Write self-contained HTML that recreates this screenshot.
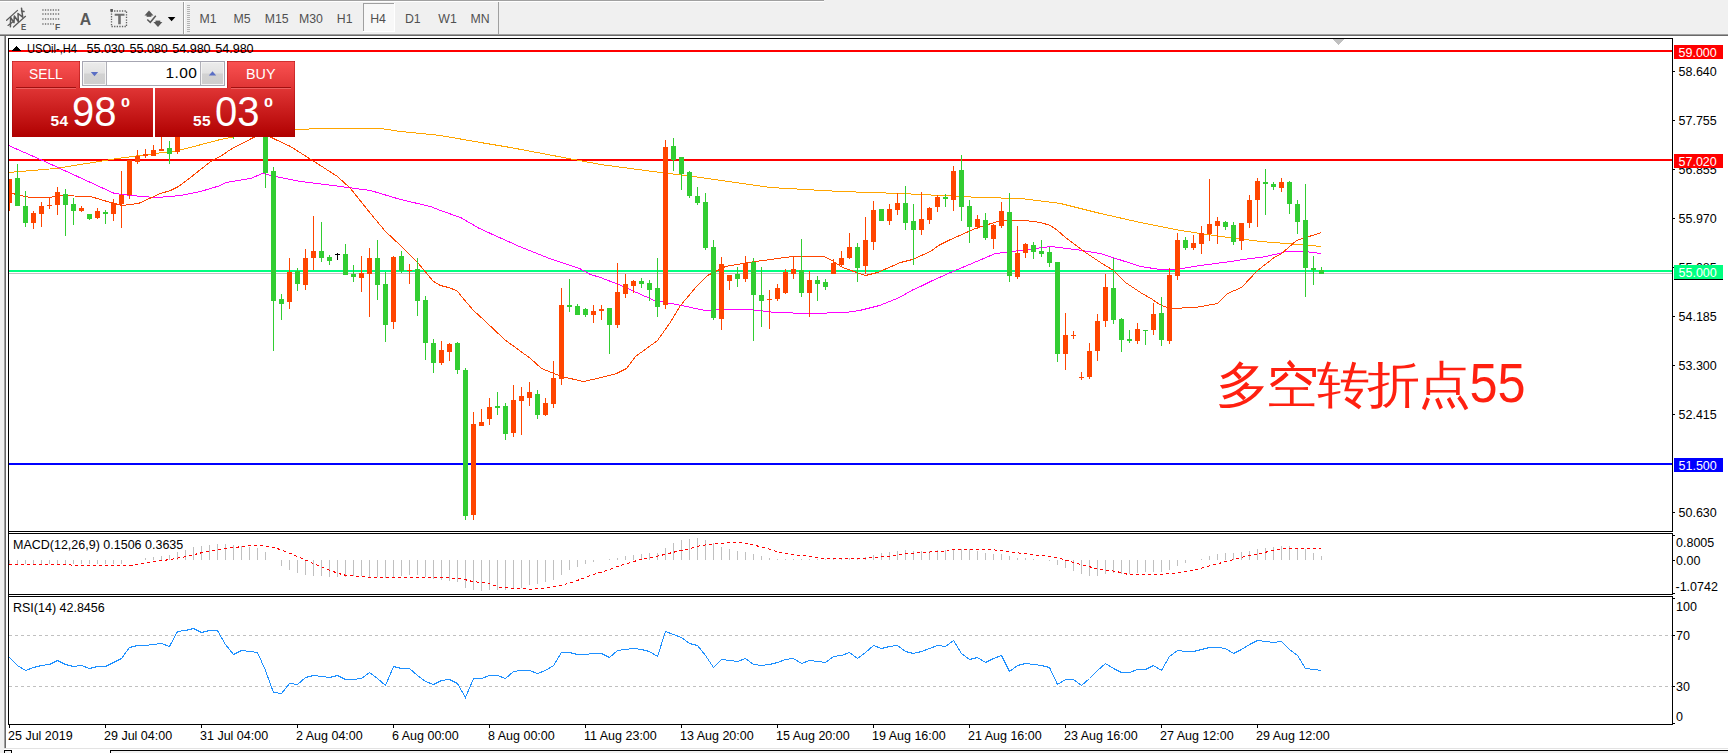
<!DOCTYPE html>
<html><head><meta charset="utf-8"><title>USOil H4</title>
<style>
html,body{margin:0;padding:0;background:#fff;}
body{width:1728px;height:753px;position:relative;overflow:hidden;font-family:"Liberation Sans",sans-serif;}
.a{position:absolute;}
svg{position:absolute;left:0;top:0;}
svg text{font-family:"Liberation Sans",sans-serif;}
.tp{position:absolute;color:#fff;white-space:nowrap;line-height:1;}
</style></head><body>
<div class="a" style="left:0;top:0;width:1728px;height:34px;background:#f0f0f0"></div>
<div class="a" style="left:0;top:0;width:824px;height:1px;background:#a0a0a0"></div>
<div class="a" style="left:0;top:1px;width:824px;height:1px;background:#fff"></div>
<div class="a" style="left:0;top:34px;width:1728px;height:1px;background:#a0a0a0"></div>
<div class="a" style="left:0;top:35px;width:1728px;height:1px;background:#696969"></div>
<div class="a" style="left:0;top:36px;width:4px;height:717px;background:#f0f0f0"></div>
<div class="a" style="left:4px;top:36px;width:1px;height:712px;background:#a0a0a0"></div>
<div class="a" style="left:5px;top:36px;width:1px;height:712px;background:#696969"></div>
<div class="a" style="left:4px;top:748px;width:1724px;height:1px;background:#e3e3e3"></div>
<div class="a" style="left:0;top:750px;width:1728px;height:3px;background:#f0f0f0"></div>
<div class="a" style="left:12px;top:750px;width:98px;height:3px;background:#fff"></div>
<div class="a" style="left:110px;top:750px;width:1618px;height:1px;background:#000"></div>
<div class="a" style="left:110px;top:750px;width:1px;height:3px;background:#000"></div>
<div class="a" style="left:4px;top:750px;width:8px;height:1px;background:#000"></div>
<div class="a" style="left:4px;top:750px;width:1px;height:3px;background:#000"></div>
<div class="a" style="left:11px;top:750px;width:1px;height:3px;background:#000"></div>
<svg width="1728" height="753" viewBox="0 0 1728 753" shape-rendering="crispEdges">
<rect x="9" y="50" width="1664" height="2" fill="#ff0000"/>
<rect x="9" y="159" width="1664" height="2" fill="#ff0000"/>
<rect x="9" y="270" width="1664" height="2" fill="#00ff80"/>
<rect x="9" y="273" width="1663" height="1" fill="#c0c0c0"/>
<rect x="9" y="463" width="1664" height="2" fill="#0000ff"/>
<polyline points="8.5,172.5 55.5,168.5 117.5,158.5 178.5,150.5 220.5,139.5 260.5,131.5 297.5,129.5 320.5,128.5 380.5,128.5 400.5,131.5 440.5,135.5 480.5,142.5 510.5,147.5 600.5,164.5 660.5,172.5 700.5,177.5 770.5,187.5 840.5,191.5 900.5,193.5 940.5,195.5 980.5,197.5 1020.5,198.5 1060.5,203.5 1100.5,213.5 1140.5,222.5 1180.5,230.5 1220.5,236.5 1260.5,241.5 1299.5,244.5 1321.5,246.5" fill="none" stroke="#ffa500" stroke-width="1" />
<polyline points="8.5,145.5 40.5,159.5 114.5,193.5 130.5,195.5 155.5,197.5 170.5,196.5 180.5,195.5 200.5,191.5 220.5,185.5 225.5,182.5 250.5,178.5 262.5,173.5 275.5,176.5 300.5,181.5 340.5,186.5 370.5,190.5 400.5,199.5 430.5,206.5 440.5,210.5 460.5,217.5 479.5,228.5 490.5,233.5 510.5,242.5 519.5,246.5 549.5,258.5 579.5,268.5 590.5,274.5 600.5,277.5 618.5,284.5 654.5,300.5 676.5,304.5 705.5,310.5 717.5,309.5 749.5,309.5 775.5,312.5 809.5,313.5 845.5,312.5 859.5,310.5 879.5,305.5 899.5,297.5 913.5,289.5 920.5,286.5 930.5,281.5 950.5,272.5 995.5,253.5 1020.5,250.5 1050.5,246.5 1075.5,249.5 1100.5,253.5 1140.5,266.5 1160.5,269.5 1175.5,269.5 1200.5,265.5 1230.5,261.5 1250.5,258.5 1260.5,257.5 1279.5,253.5 1284.5,251.5 1299.5,251.5 1304.5,251.5 1321.5,253.5" fill="none" stroke="#ff00ff" stroke-width="1" />
<polyline points="8.5,192.5 20.5,195.5 30.5,197.5 50.5,197.5 57.5,195.5 90.5,196.5 110.5,202.5 122.5,205.5 138.5,203.5 160.5,193.5 170.5,190.5 178.5,186.5 190.5,177.5 200.5,169.5 213.5,159.5 220.5,156.5 230.5,149.5 253.5,137.5 262.5,132.5 271.5,137.5 275.5,139.5 290.5,146.5 312.5,160.5 337.5,176.5 350.5,188.5 370.5,213.5 385.5,231.5 400.5,245.5 417.5,262.5 433.5,281.5 440.5,285.5 448.5,287.5 456.5,290.5 458.5,292.5 461.5,296.5 467.5,303.5 473.5,310.5 484.5,320.5 504.5,339.5 530.5,358.5 541.5,368.5 561.5,376.5 583.5,381.5 601.5,377.5 616.5,373.5 626.5,368.5 635.5,356.5 657.5,340.5 669.5,323.5 680.5,305.5 696.5,286.5 707.5,275.5 725.5,266.5 755.5,261.5 792.5,256.5 823.5,256.5 830.5,259.5 842.5,267.5 865.5,275.5 877.5,272.5 900.5,262.5 912.5,259.5 930.5,251.5 938.5,245.5 950.5,239.5 975.5,228.5 1000.5,220.5 1025.5,220.5 1040.5,222.5 1050.5,225.5 1057.5,230.5 1065.5,237.5 1085.5,252.5 1100.5,262.5 1113.5,270.5 1125.5,282.5 1140.5,292.5 1152.5,299.5 1159.5,304.5 1169.5,308.5 1195.5,307.5 1217.5,303.5 1227.5,293.5 1241.5,287.5 1257.5,270.5 1275.5,256.5 1280.5,254.5 1296.5,240.5 1321.5,232.5" fill="none" stroke="#ff4500" stroke-width="1" />
<rect x="9" y="179" width="1" height="32" fill="#ff4500"/>
<rect x="9" y="179" width="3" height="24" fill="#ff4500"/>
<rect x="17" y="164" width="1" height="42" fill="#32cd32"/>
<rect x="15" y="178" width="5" height="28" fill="#32cd32"/>
<rect x="25" y="191" width="1" height="36" fill="#32cd32"/>
<rect x="23" y="206" width="5" height="17" fill="#32cd32"/>
<rect x="33" y="211" width="1" height="18" fill="#ff4500"/>
<rect x="31" y="213" width="5" height="10" fill="#ff4500"/>
<rect x="41" y="202" width="1" height="25" fill="#ff4500"/>
<rect x="39" y="206" width="5" height="8" fill="#ff4500"/>
<rect x="49" y="198" width="1" height="11" fill="#ff4500"/>
<rect x="47" y="205" width="5" height="1" fill="#ff4500"/>
<rect x="57" y="187" width="1" height="28" fill="#ff4500"/>
<rect x="55" y="192" width="5" height="13" fill="#ff4500"/>
<rect x="65" y="189" width="1" height="47" fill="#32cd32"/>
<rect x="63" y="194" width="5" height="11" fill="#32cd32"/>
<rect x="73" y="198" width="1" height="27" fill="#32cd32"/>
<rect x="71" y="204" width="5" height="7" fill="#32cd32"/>
<rect x="81" y="206" width="1" height="6" fill="#ff4500"/>
<rect x="79" y="208" width="5" height="3" fill="#ff4500"/>
<rect x="89" y="214" width="1" height="6" fill="#32cd32"/>
<rect x="87" y="214" width="5" height="5" fill="#32cd32"/>
<rect x="97" y="208" width="1" height="11" fill="#ff4500"/>
<rect x="95" y="211" width="5" height="7" fill="#ff4500"/>
<rect x="105" y="210" width="1" height="14" fill="#32cd32"/>
<rect x="103" y="212" width="5" height="2" fill="#32cd32"/>
<rect x="113" y="199" width="1" height="22" fill="#ff4500"/>
<rect x="111" y="203" width="5" height="11" fill="#ff4500"/>
<rect x="121" y="171" width="1" height="57" fill="#ff4500"/>
<rect x="119" y="195" width="5" height="9" fill="#ff4500"/>
<rect x="129" y="160" width="1" height="39" fill="#ff4500"/>
<rect x="127" y="160" width="5" height="35" fill="#ff4500"/>
<rect x="137" y="150" width="1" height="14" fill="#ff4500"/>
<rect x="135" y="156" width="5" height="6" fill="#ff4500"/>
<rect x="145" y="149" width="1" height="9" fill="#ff4500"/>
<rect x="143" y="154" width="5" height="2" fill="#ff4500"/>
<rect x="153" y="145" width="1" height="11" fill="#ff4500"/>
<rect x="151" y="150" width="5" height="6" fill="#ff4500"/>
<rect x="161" y="130" width="1" height="21" fill="#ff4500"/>
<rect x="159" y="149" width="5" height="2" fill="#ff4500"/>
<rect x="169" y="141" width="1" height="23" fill="#32cd32"/>
<rect x="167" y="148" width="5" height="6" fill="#32cd32"/>
<rect x="177" y="130" width="1" height="24" fill="#ff4500"/>
<rect x="175" y="130" width="5" height="22" fill="#ff4500"/>
<rect x="185" y="120" width="1" height="13" fill="#ff4500"/>
<rect x="183" y="122" width="5" height="9" fill="#ff4500"/>
<rect x="193" y="112" width="1" height="14" fill="#ff4500"/>
<rect x="191" y="118" width="5" height="5" fill="#ff4500"/>
<rect x="201" y="110" width="1" height="18" fill="#32cd32"/>
<rect x="199" y="116" width="5" height="5" fill="#32cd32"/>
<rect x="209" y="108" width="1" height="12" fill="#ff4500"/>
<rect x="207" y="112" width="5" height="6" fill="#ff4500"/>
<rect x="217" y="109" width="1" height="13" fill="#32cd32"/>
<rect x="215" y="112" width="5" height="2" fill="#32cd32"/>
<rect x="225" y="110" width="1" height="21" fill="#32cd32"/>
<rect x="223" y="114" width="5" height="14" fill="#32cd32"/>
<rect x="233" y="122" width="1" height="17" fill="#32cd32"/>
<rect x="231" y="127" width="5" height="9" fill="#32cd32"/>
<rect x="241" y="118" width="1" height="18" fill="#ff4500"/>
<rect x="239" y="124" width="5" height="10" fill="#ff4500"/>
<rect x="249" y="120" width="1" height="12" fill="#32cd32"/>
<rect x="247" y="125" width="5" height="3" fill="#32cd32"/>
<rect x="257" y="112" width="1" height="18" fill="#ff4500"/>
<rect x="255" y="122" width="5" height="5" fill="#ff4500"/>
<rect x="265" y="100" width="1" height="88" fill="#32cd32"/>
<rect x="263" y="105" width="5" height="68" fill="#32cd32"/>
<rect x="273" y="167" width="1" height="184" fill="#32cd32"/>
<rect x="271" y="171" width="5" height="130" fill="#32cd32"/>
<rect x="281" y="294" width="1" height="26" fill="#32cd32"/>
<rect x="279" y="299" width="5" height="5" fill="#32cd32"/>
<rect x="289" y="258" width="1" height="51" fill="#ff4500"/>
<rect x="287" y="272" width="5" height="30" fill="#ff4500"/>
<rect x="297" y="268" width="1" height="23" fill="#32cd32"/>
<rect x="295" y="271" width="5" height="13" fill="#32cd32"/>
<rect x="305" y="249" width="1" height="41" fill="#ff4500"/>
<rect x="303" y="258" width="5" height="27" fill="#ff4500"/>
<rect x="313" y="216" width="1" height="54" fill="#ff4500"/>
<rect x="311" y="251" width="5" height="7" fill="#ff4500"/>
<rect x="321" y="222" width="1" height="40" fill="#32cd32"/>
<rect x="319" y="251" width="5" height="7" fill="#32cd32"/>
<rect x="329" y="255" width="1" height="10" fill="#32cd32"/>
<rect x="327" y="257" width="5" height="4" fill="#32cd32"/>
<rect x="345" y="244" width="1" height="31" fill="#32cd32"/>
<rect x="343" y="254" width="5" height="21" fill="#32cd32"/>
<rect x="353" y="265" width="1" height="17" fill="#32cd32"/>
<rect x="351" y="274" width="5" height="3" fill="#32cd32"/>
<rect x="361" y="256" width="1" height="36" fill="#ff4500"/>
<rect x="359" y="273" width="5" height="5" fill="#ff4500"/>
<rect x="369" y="248" width="1" height="69" fill="#ff4500"/>
<rect x="367" y="258" width="5" height="16" fill="#ff4500"/>
<rect x="377" y="240" width="1" height="60" fill="#32cd32"/>
<rect x="375" y="258" width="5" height="27" fill="#32cd32"/>
<rect x="385" y="272" width="1" height="70" fill="#32cd32"/>
<rect x="383" y="284" width="5" height="41" fill="#32cd32"/>
<rect x="393" y="256" width="1" height="73" fill="#ff4500"/>
<rect x="391" y="257" width="5" height="65" fill="#ff4500"/>
<rect x="401" y="251" width="1" height="22" fill="#32cd32"/>
<rect x="399" y="256" width="5" height="15" fill="#32cd32"/>
<rect x="409" y="264" width="1" height="20" fill="#ff4500"/>
<rect x="407" y="270" width="5" height="1" fill="#ff4500"/>
<rect x="417" y="258" width="1" height="58" fill="#32cd32"/>
<rect x="415" y="269" width="5" height="32" fill="#32cd32"/>
<rect x="425" y="296" width="1" height="64" fill="#32cd32"/>
<rect x="423" y="300" width="5" height="43" fill="#32cd32"/>
<rect x="433" y="339" width="1" height="34" fill="#32cd32"/>
<rect x="431" y="343" width="5" height="20" fill="#32cd32"/>
<rect x="441" y="341" width="1" height="24" fill="#ff4500"/>
<rect x="439" y="350" width="5" height="13" fill="#ff4500"/>
<rect x="449" y="343" width="1" height="18" fill="#ff4500"/>
<rect x="447" y="344" width="5" height="8" fill="#ff4500"/>
<rect x="457" y="342" width="1" height="32" fill="#32cd32"/>
<rect x="455" y="343" width="5" height="27" fill="#32cd32"/>
<rect x="465" y="368" width="1" height="152" fill="#32cd32"/>
<rect x="463" y="370" width="5" height="146" fill="#32cd32"/>
<rect x="473" y="412" width="1" height="108" fill="#ff4500"/>
<rect x="471" y="424" width="5" height="91" fill="#ff4500"/>
<rect x="481" y="409" width="1" height="17" fill="#ff4500"/>
<rect x="479" y="422" width="5" height="4" fill="#ff4500"/>
<rect x="489" y="398" width="1" height="27" fill="#ff4500"/>
<rect x="487" y="407" width="5" height="12" fill="#ff4500"/>
<rect x="497" y="392" width="1" height="23" fill="#32cd32"/>
<rect x="495" y="406" width="5" height="2" fill="#32cd32"/>
<rect x="505" y="403" width="1" height="37" fill="#32cd32"/>
<rect x="503" y="406" width="5" height="28" fill="#32cd32"/>
<rect x="513" y="385" width="1" height="52" fill="#ff4500"/>
<rect x="511" y="400" width="5" height="33" fill="#ff4500"/>
<rect x="521" y="387" width="1" height="48" fill="#ff4500"/>
<rect x="519" y="396" width="5" height="5" fill="#ff4500"/>
<rect x="529" y="382" width="1" height="24" fill="#ff4500"/>
<rect x="527" y="392" width="5" height="6" fill="#ff4500"/>
<rect x="537" y="390" width="1" height="29" fill="#32cd32"/>
<rect x="535" y="394" width="5" height="21" fill="#32cd32"/>
<rect x="545" y="398" width="1" height="18" fill="#ff4500"/>
<rect x="543" y="403" width="5" height="12" fill="#ff4500"/>
<rect x="553" y="361" width="1" height="47" fill="#ff4500"/>
<rect x="551" y="378" width="5" height="26" fill="#ff4500"/>
<rect x="561" y="288" width="1" height="97" fill="#ff4500"/>
<rect x="559" y="305" width="5" height="74" fill="#ff4500"/>
<rect x="569" y="279" width="1" height="33" fill="#32cd32"/>
<rect x="567" y="305" width="5" height="2" fill="#32cd32"/>
<rect x="577" y="304" width="1" height="11" fill="#32cd32"/>
<rect x="575" y="306" width="5" height="9" fill="#32cd32"/>
<rect x="585" y="308" width="1" height="9" fill="#32cd32"/>
<rect x="583" y="309" width="5" height="6" fill="#32cd32"/>
<rect x="593" y="305" width="1" height="18" fill="#ff4500"/>
<rect x="591" y="311" width="5" height="4" fill="#ff4500"/>
<rect x="601" y="305" width="1" height="15" fill="#ff4500"/>
<rect x="599" y="309" width="5" height="2" fill="#ff4500"/>
<rect x="609" y="308" width="1" height="46" fill="#32cd32"/>
<rect x="607" y="308" width="5" height="17" fill="#32cd32"/>
<rect x="617" y="263" width="1" height="65" fill="#ff4500"/>
<rect x="615" y="292" width="5" height="33" fill="#ff4500"/>
<rect x="625" y="274" width="1" height="24" fill="#ff4500"/>
<rect x="623" y="284" width="5" height="10" fill="#ff4500"/>
<rect x="633" y="280" width="1" height="13" fill="#ff4500"/>
<rect x="631" y="281" width="5" height="5" fill="#ff4500"/>
<rect x="641" y="278" width="1" height="10" fill="#32cd32"/>
<rect x="639" y="281" width="5" height="3" fill="#32cd32"/>
<rect x="649" y="280" width="1" height="21" fill="#32cd32"/>
<rect x="647" y="283" width="5" height="7" fill="#32cd32"/>
<rect x="657" y="258" width="1" height="59" fill="#32cd32"/>
<rect x="655" y="288" width="5" height="19" fill="#32cd32"/>
<rect x="665" y="140" width="1" height="169" fill="#ff4500"/>
<rect x="663" y="147" width="5" height="158" fill="#ff4500"/>
<rect x="673" y="138" width="1" height="33" fill="#32cd32"/>
<rect x="671" y="146" width="5" height="14" fill="#32cd32"/>
<rect x="681" y="157" width="1" height="33" fill="#32cd32"/>
<rect x="679" y="157" width="5" height="17" fill="#32cd32"/>
<rect x="689" y="171" width="1" height="27" fill="#32cd32"/>
<rect x="687" y="172" width="5" height="24" fill="#32cd32"/>
<rect x="697" y="187" width="1" height="18" fill="#32cd32"/>
<rect x="695" y="196" width="5" height="7" fill="#32cd32"/>
<rect x="705" y="193" width="1" height="57" fill="#32cd32"/>
<rect x="703" y="202" width="5" height="46" fill="#32cd32"/>
<rect x="713" y="240" width="1" height="80" fill="#32cd32"/>
<rect x="711" y="247" width="5" height="71" fill="#32cd32"/>
<rect x="721" y="257" width="1" height="73" fill="#ff4500"/>
<rect x="719" y="264" width="5" height="55" fill="#ff4500"/>
<rect x="729" y="275" width="1" height="15" fill="#ff4500"/>
<rect x="727" y="275" width="5" height="6" fill="#ff4500"/>
<rect x="737" y="267" width="1" height="20" fill="#32cd32"/>
<rect x="735" y="274" width="5" height="5" fill="#32cd32"/>
<rect x="745" y="256" width="1" height="26" fill="#ff4500"/>
<rect x="743" y="263" width="5" height="16" fill="#ff4500"/>
<rect x="753" y="258" width="1" height="83" fill="#32cd32"/>
<rect x="751" y="262" width="5" height="33" fill="#32cd32"/>
<rect x="761" y="267" width="1" height="60" fill="#32cd32"/>
<rect x="759" y="295" width="5" height="6" fill="#32cd32"/>
<rect x="769" y="290" width="1" height="39" fill="#ff4500"/>
<rect x="767" y="299" width="5" height="1" fill="#ff4500"/>
<rect x="777" y="284" width="1" height="17" fill="#ff4500"/>
<rect x="775" y="288" width="5" height="11" fill="#ff4500"/>
<rect x="785" y="269" width="1" height="25" fill="#ff4500"/>
<rect x="783" y="272" width="5" height="21" fill="#ff4500"/>
<rect x="793" y="256" width="1" height="23" fill="#ff4500"/>
<rect x="791" y="269" width="5" height="5" fill="#ff4500"/>
<rect x="801" y="239" width="1" height="58" fill="#32cd32"/>
<rect x="799" y="270" width="5" height="23" fill="#32cd32"/>
<rect x="809" y="271" width="1" height="46" fill="#ff4500"/>
<rect x="807" y="280" width="5" height="13" fill="#ff4500"/>
<rect x="817" y="276" width="1" height="25" fill="#32cd32"/>
<rect x="815" y="280" width="5" height="4" fill="#32cd32"/>
<rect x="825" y="279" width="1" height="11" fill="#32cd32"/>
<rect x="823" y="282" width="5" height="5" fill="#32cd32"/>
<rect x="833" y="259" width="1" height="15" fill="#ff4500"/>
<rect x="831" y="263" width="5" height="11" fill="#ff4500"/>
<rect x="841" y="251" width="1" height="15" fill="#ff4500"/>
<rect x="839" y="258" width="5" height="7" fill="#ff4500"/>
<rect x="849" y="233" width="1" height="26" fill="#ff4500"/>
<rect x="847" y="247" width="5" height="11" fill="#ff4500"/>
<rect x="857" y="243" width="1" height="39" fill="#32cd32"/>
<rect x="855" y="247" width="5" height="21" fill="#32cd32"/>
<rect x="865" y="217" width="1" height="57" fill="#ff4500"/>
<rect x="863" y="240" width="5" height="26" fill="#ff4500"/>
<rect x="873" y="201" width="1" height="49" fill="#ff4500"/>
<rect x="871" y="210" width="5" height="32" fill="#ff4500"/>
<rect x="881" y="209" width="1" height="12" fill="#32cd32"/>
<rect x="879" y="209" width="5" height="12" fill="#32cd32"/>
<rect x="889" y="204" width="1" height="21" fill="#ff4500"/>
<rect x="887" y="209" width="5" height="12" fill="#ff4500"/>
<rect x="897" y="193" width="1" height="22" fill="#ff4500"/>
<rect x="895" y="203" width="5" height="7" fill="#ff4500"/>
<rect x="905" y="186" width="1" height="44" fill="#32cd32"/>
<rect x="903" y="203" width="5" height="20" fill="#32cd32"/>
<rect x="913" y="204" width="1" height="61" fill="#32cd32"/>
<rect x="911" y="221" width="5" height="9" fill="#32cd32"/>
<rect x="921" y="192" width="1" height="43" fill="#ff4500"/>
<rect x="919" y="219" width="5" height="11" fill="#ff4500"/>
<rect x="929" y="207" width="1" height="17" fill="#ff4500"/>
<rect x="927" y="208" width="5" height="12" fill="#ff4500"/>
<rect x="937" y="195" width="1" height="17" fill="#ff4500"/>
<rect x="935" y="197" width="5" height="10" fill="#ff4500"/>
<rect x="945" y="194" width="1" height="13" fill="#32cd32"/>
<rect x="943" y="197" width="5" height="2" fill="#32cd32"/>
<rect x="953" y="166" width="1" height="45" fill="#ff4500"/>
<rect x="951" y="171" width="5" height="29" fill="#ff4500"/>
<rect x="961" y="155" width="1" height="66" fill="#32cd32"/>
<rect x="959" y="170" width="5" height="37" fill="#32cd32"/>
<rect x="969" y="200" width="1" height="43" fill="#32cd32"/>
<rect x="967" y="206" width="5" height="21" fill="#32cd32"/>
<rect x="977" y="215" width="1" height="14" fill="#ff4500"/>
<rect x="975" y="219" width="5" height="8" fill="#ff4500"/>
<rect x="985" y="213" width="1" height="27" fill="#32cd32"/>
<rect x="983" y="220" width="5" height="18" fill="#32cd32"/>
<rect x="993" y="224" width="1" height="25" fill="#ff4500"/>
<rect x="991" y="225" width="5" height="14" fill="#ff4500"/>
<rect x="1001" y="202" width="1" height="26" fill="#ff4500"/>
<rect x="999" y="211" width="5" height="15" fill="#ff4500"/>
<rect x="1009" y="193" width="1" height="89" fill="#32cd32"/>
<rect x="1007" y="212" width="5" height="64" fill="#32cd32"/>
<rect x="1017" y="226" width="1" height="53" fill="#ff4500"/>
<rect x="1015" y="253" width="5" height="24" fill="#ff4500"/>
<rect x="1025" y="243" width="1" height="15" fill="#ff4500"/>
<rect x="1023" y="244" width="5" height="9" fill="#ff4500"/>
<rect x="1033" y="242" width="1" height="17" fill="#32cd32"/>
<rect x="1031" y="245" width="5" height="7" fill="#32cd32"/>
<rect x="1041" y="240" width="1" height="17" fill="#32cd32"/>
<rect x="1039" y="251" width="5" height="3" fill="#32cd32"/>
<rect x="1049" y="247" width="1" height="20" fill="#32cd32"/>
<rect x="1047" y="252" width="5" height="11" fill="#32cd32"/>
<rect x="1057" y="262" width="1" height="100" fill="#32cd32"/>
<rect x="1055" y="262" width="5" height="92" fill="#32cd32"/>
<rect x="1065" y="313" width="1" height="57" fill="#ff4500"/>
<rect x="1063" y="335" width="5" height="19" fill="#ff4500"/>
<rect x="1073" y="331" width="1" height="8" fill="#ff4500"/>
<rect x="1071" y="335" width="5" height="1" fill="#ff4500"/>
<rect x="1081" y="372" width="1" height="8" fill="#ff4500"/>
<rect x="1079" y="377" width="5" height="1" fill="#ff4500"/>
<rect x="1089" y="343" width="1" height="36" fill="#ff4500"/>
<rect x="1087" y="351" width="5" height="26" fill="#ff4500"/>
<rect x="1097" y="314" width="1" height="47" fill="#ff4500"/>
<rect x="1095" y="321" width="5" height="30" fill="#ff4500"/>
<rect x="1105" y="274" width="1" height="53" fill="#ff4500"/>
<rect x="1103" y="287" width="5" height="34" fill="#ff4500"/>
<rect x="1113" y="258" width="1" height="66" fill="#32cd32"/>
<rect x="1111" y="288" width="5" height="32" fill="#32cd32"/>
<rect x="1121" y="318" width="1" height="34" fill="#32cd32"/>
<rect x="1119" y="319" width="5" height="21" fill="#32cd32"/>
<rect x="1129" y="330" width="1" height="13" fill="#32cd32"/>
<rect x="1127" y="339" width="5" height="2" fill="#32cd32"/>
<rect x="1137" y="323" width="1" height="21" fill="#ff4500"/>
<rect x="1135" y="329" width="5" height="12" fill="#ff4500"/>
<rect x="1145" y="330" width="1" height="15" fill="#32cd32"/>
<rect x="1143" y="330" width="5" height="1" fill="#32cd32"/>
<rect x="1153" y="303" width="1" height="32" fill="#ff4500"/>
<rect x="1151" y="314" width="5" height="16" fill="#ff4500"/>
<rect x="1161" y="297" width="1" height="49" fill="#32cd32"/>
<rect x="1159" y="313" width="5" height="27" fill="#32cd32"/>
<rect x="1169" y="268" width="1" height="76" fill="#ff4500"/>
<rect x="1167" y="275" width="5" height="66" fill="#ff4500"/>
<rect x="1177" y="233" width="1" height="47" fill="#ff4500"/>
<rect x="1175" y="240" width="5" height="36" fill="#ff4500"/>
<rect x="1185" y="237" width="1" height="13" fill="#32cd32"/>
<rect x="1183" y="240" width="5" height="8" fill="#32cd32"/>
<rect x="1193" y="235" width="1" height="15" fill="#ff4500"/>
<rect x="1191" y="243" width="5" height="5" fill="#ff4500"/>
<rect x="1201" y="226" width="1" height="28" fill="#ff4500"/>
<rect x="1199" y="233" width="5" height="11" fill="#ff4500"/>
<rect x="1209" y="179" width="1" height="62" fill="#ff4500"/>
<rect x="1207" y="224" width="5" height="10" fill="#ff4500"/>
<rect x="1217" y="217" width="1" height="27" fill="#ff4500"/>
<rect x="1215" y="221" width="5" height="5" fill="#ff4500"/>
<rect x="1225" y="221" width="1" height="9" fill="#32cd32"/>
<rect x="1223" y="222" width="5" height="5" fill="#32cd32"/>
<rect x="1233" y="222" width="1" height="23" fill="#32cd32"/>
<rect x="1231" y="225" width="5" height="17" fill="#32cd32"/>
<rect x="1241" y="223" width="1" height="27" fill="#ff4500"/>
<rect x="1239" y="223" width="5" height="18" fill="#ff4500"/>
<rect x="1249" y="195" width="1" height="33" fill="#ff4500"/>
<rect x="1247" y="200" width="5" height="23" fill="#ff4500"/>
<rect x="1257" y="178" width="1" height="49" fill="#ff4500"/>
<rect x="1255" y="181" width="5" height="19" fill="#ff4500"/>
<rect x="1265" y="169" width="1" height="46" fill="#32cd32"/>
<rect x="1263" y="182" width="5" height="2" fill="#32cd32"/>
<rect x="1273" y="182" width="1" height="8" fill="#32cd32"/>
<rect x="1271" y="184" width="5" height="3" fill="#32cd32"/>
<rect x="1281" y="178" width="1" height="14" fill="#ff4500"/>
<rect x="1279" y="182" width="5" height="6" fill="#ff4500"/>
<rect x="1289" y="181" width="1" height="33" fill="#32cd32"/>
<rect x="1287" y="182" width="5" height="22" fill="#32cd32"/>
<rect x="1297" y="200" width="1" height="34" fill="#32cd32"/>
<rect x="1295" y="204" width="5" height="18" fill="#32cd32"/>
<rect x="1305" y="184" width="1" height="113" fill="#32cd32"/>
<rect x="1303" y="220" width="5" height="48" fill="#32cd32"/>
<rect x="1313" y="256" width="1" height="29" fill="#32cd32"/>
<rect x="1311" y="268" width="5" height="2" fill="#32cd32"/>
<rect x="1321" y="267" width="1" height="7" fill="#32cd32"/>
<rect x="1319" y="270" width="5" height="4" fill="#32cd32"/>
<rect x="337" y="253" width="1" height="7" fill="#000"/>
<rect x="335" y="254" width="5" height="1" fill="#000"/>
<polygon points="1332,39 1344,39 1338,45" fill="#c0c0c0"/>
<rect x="9" y="560" width="1" height="4" fill="#c0c0c0"/>
<rect x="17" y="560" width="1" height="4" fill="#c0c0c0"/>
<rect x="25" y="560" width="1" height="4" fill="#c0c0c0"/>
<rect x="33" y="560" width="1" height="4" fill="#c0c0c0"/>
<rect x="41" y="560" width="1" height="4" fill="#c0c0c0"/>
<rect x="49" y="560" width="1" height="4" fill="#c0c0c0"/>
<rect x="57" y="560" width="1" height="4" fill="#c0c0c0"/>
<rect x="65" y="560" width="1" height="4" fill="#c0c0c0"/>
<rect x="73" y="560" width="1" height="4" fill="#c0c0c0"/>
<rect x="81" y="560" width="1" height="4" fill="#c0c0c0"/>
<rect x="89" y="560" width="1" height="4" fill="#c0c0c0"/>
<rect x="97" y="560" width="1" height="4" fill="#c0c0c0"/>
<rect x="105" y="560" width="1" height="4" fill="#c0c0c0"/>
<rect x="113" y="560" width="1" height="4" fill="#c0c0c0"/>
<rect x="121" y="560" width="1" height="4" fill="#c0c0c0"/>
<rect x="145" y="558" width="1" height="2" fill="#c0c0c0"/>
<rect x="153" y="557" width="1" height="3" fill="#c0c0c0"/>
<rect x="161" y="556" width="1" height="4" fill="#c0c0c0"/>
<rect x="169" y="555" width="1" height="5" fill="#c0c0c0"/>
<rect x="177" y="552" width="1" height="8" fill="#c0c0c0"/>
<rect x="185" y="550" width="1" height="10" fill="#c0c0c0"/>
<rect x="193" y="547" width="1" height="13" fill="#c0c0c0"/>
<rect x="201" y="546" width="1" height="14" fill="#c0c0c0"/>
<rect x="209" y="545" width="1" height="15" fill="#c0c0c0"/>
<rect x="217" y="544" width="1" height="16" fill="#c0c0c0"/>
<rect x="225" y="544" width="1" height="16" fill="#c0c0c0"/>
<rect x="233" y="545" width="1" height="15" fill="#c0c0c0"/>
<rect x="241" y="546" width="1" height="14" fill="#c0c0c0"/>
<rect x="249" y="547" width="1" height="13" fill="#c0c0c0"/>
<rect x="257" y="548" width="1" height="12" fill="#c0c0c0"/>
<rect x="265" y="552" width="1" height="8" fill="#c0c0c0"/>
<rect x="281" y="560" width="1" height="6" fill="#c0c0c0"/>
<rect x="289" y="560" width="1" height="10" fill="#c0c0c0"/>
<rect x="297" y="560" width="1" height="13" fill="#c0c0c0"/>
<rect x="305" y="560" width="1" height="15" fill="#c0c0c0"/>
<rect x="313" y="560" width="1" height="16" fill="#c0c0c0"/>
<rect x="321" y="560" width="1" height="16" fill="#c0c0c0"/>
<rect x="329" y="560" width="1" height="17" fill="#c0c0c0"/>
<rect x="337" y="560" width="1" height="17" fill="#c0c0c0"/>
<rect x="345" y="560" width="1" height="17" fill="#c0c0c0"/>
<rect x="353" y="560" width="1" height="16" fill="#c0c0c0"/>
<rect x="361" y="560" width="1" height="16" fill="#c0c0c0"/>
<rect x="369" y="560" width="1" height="17" fill="#c0c0c0"/>
<rect x="377" y="560" width="1" height="17" fill="#c0c0c0"/>
<rect x="385" y="560" width="1" height="18" fill="#c0c0c0"/>
<rect x="393" y="560" width="1" height="17" fill="#c0c0c0"/>
<rect x="401" y="560" width="1" height="16" fill="#c0c0c0"/>
<rect x="409" y="560" width="1" height="15" fill="#c0c0c0"/>
<rect x="417" y="560" width="1" height="15" fill="#c0c0c0"/>
<rect x="425" y="560" width="1" height="17" fill="#c0c0c0"/>
<rect x="433" y="560" width="1" height="19" fill="#c0c0c0"/>
<rect x="441" y="560" width="1" height="20" fill="#c0c0c0"/>
<rect x="449" y="560" width="1" height="21" fill="#c0c0c0"/>
<rect x="457" y="560" width="1" height="22" fill="#c0c0c0"/>
<rect x="465" y="560" width="1" height="28" fill="#c0c0c0"/>
<rect x="473" y="560" width="1" height="30" fill="#c0c0c0"/>
<rect x="481" y="560" width="1" height="31" fill="#c0c0c0"/>
<rect x="489" y="560" width="1" height="30" fill="#c0c0c0"/>
<rect x="497" y="560" width="1" height="30" fill="#c0c0c0"/>
<rect x="505" y="560" width="1" height="30" fill="#c0c0c0"/>
<rect x="513" y="560" width="1" height="29" fill="#c0c0c0"/>
<rect x="521" y="560" width="1" height="28" fill="#c0c0c0"/>
<rect x="529" y="560" width="1" height="25" fill="#c0c0c0"/>
<rect x="537" y="560" width="1" height="24" fill="#c0c0c0"/>
<rect x="545" y="560" width="1" height="22" fill="#c0c0c0"/>
<rect x="553" y="560" width="1" height="20" fill="#c0c0c0"/>
<rect x="561" y="560" width="1" height="15" fill="#c0c0c0"/>
<rect x="569" y="560" width="1" height="10" fill="#c0c0c0"/>
<rect x="577" y="560" width="1" height="7" fill="#c0c0c0"/>
<rect x="585" y="560" width="1" height="4" fill="#c0c0c0"/>
<rect x="593" y="560" width="1" height="2" fill="#c0c0c0"/>
<rect x="609" y="559" width="1" height="1" fill="#c0c0c0"/>
<rect x="617" y="558" width="1" height="2" fill="#c0c0c0"/>
<rect x="625" y="556" width="1" height="4" fill="#c0c0c0"/>
<rect x="633" y="555" width="1" height="5" fill="#c0c0c0"/>
<rect x="641" y="554" width="1" height="6" fill="#c0c0c0"/>
<rect x="649" y="553" width="1" height="7" fill="#c0c0c0"/>
<rect x="657" y="553" width="1" height="7" fill="#c0c0c0"/>
<rect x="665" y="548" width="1" height="12" fill="#c0c0c0"/>
<rect x="673" y="543" width="1" height="17" fill="#c0c0c0"/>
<rect x="681" y="540" width="1" height="20" fill="#c0c0c0"/>
<rect x="689" y="539" width="1" height="21" fill="#c0c0c0"/>
<rect x="697" y="538" width="1" height="22" fill="#c0c0c0"/>
<rect x="705" y="540" width="1" height="20" fill="#c0c0c0"/>
<rect x="713" y="543" width="1" height="17" fill="#c0c0c0"/>
<rect x="721" y="547" width="1" height="13" fill="#c0c0c0"/>
<rect x="729" y="549" width="1" height="11" fill="#c0c0c0"/>
<rect x="737" y="551" width="1" height="9" fill="#c0c0c0"/>
<rect x="745" y="552" width="1" height="8" fill="#c0c0c0"/>
<rect x="753" y="554" width="1" height="6" fill="#c0c0c0"/>
<rect x="761" y="556" width="1" height="4" fill="#c0c0c0"/>
<rect x="769" y="558" width="1" height="2" fill="#c0c0c0"/>
<rect x="777" y="559" width="1" height="1" fill="#c0c0c0"/>
<rect x="785" y="559" width="1" height="1" fill="#c0c0c0"/>
<rect x="793" y="559" width="1" height="1" fill="#c0c0c0"/>
<rect x="801" y="559" width="1" height="1" fill="#c0c0c0"/>
<rect x="809" y="559" width="1" height="1" fill="#c0c0c0"/>
<rect x="817" y="559" width="1" height="1" fill="#c0c0c0"/>
<rect x="825" y="559" width="1" height="1" fill="#c0c0c0"/>
<rect x="833" y="559" width="1" height="1" fill="#c0c0c0"/>
<rect x="841" y="559" width="1" height="1" fill="#c0c0c0"/>
<rect x="849" y="558" width="1" height="2" fill="#c0c0c0"/>
<rect x="857" y="558" width="1" height="2" fill="#c0c0c0"/>
<rect x="865" y="557" width="1" height="3" fill="#c0c0c0"/>
<rect x="873" y="555" width="1" height="5" fill="#c0c0c0"/>
<rect x="881" y="553" width="1" height="7" fill="#c0c0c0"/>
<rect x="889" y="552" width="1" height="8" fill="#c0c0c0"/>
<rect x="897" y="551" width="1" height="9" fill="#c0c0c0"/>
<rect x="905" y="550" width="1" height="10" fill="#c0c0c0"/>
<rect x="913" y="551" width="1" height="9" fill="#c0c0c0"/>
<rect x="921" y="551" width="1" height="9" fill="#c0c0c0"/>
<rect x="929" y="551" width="1" height="9" fill="#c0c0c0"/>
<rect x="937" y="550" width="1" height="10" fill="#c0c0c0"/>
<rect x="945" y="550" width="1" height="10" fill="#c0c0c0"/>
<rect x="953" y="549" width="1" height="11" fill="#c0c0c0"/>
<rect x="961" y="549" width="1" height="11" fill="#c0c0c0"/>
<rect x="969" y="549" width="1" height="11" fill="#c0c0c0"/>
<rect x="977" y="551" width="1" height="9" fill="#c0c0c0"/>
<rect x="985" y="553" width="1" height="7" fill="#c0c0c0"/>
<rect x="993" y="554" width="1" height="6" fill="#c0c0c0"/>
<rect x="1001" y="554" width="1" height="6" fill="#c0c0c0"/>
<rect x="1009" y="556" width="1" height="4" fill="#c0c0c0"/>
<rect x="1017" y="558" width="1" height="2" fill="#c0c0c0"/>
<rect x="1025" y="558" width="1" height="2" fill="#c0c0c0"/>
<rect x="1033" y="559" width="1" height="1" fill="#c0c0c0"/>
<rect x="1049" y="560" width="1" height="1" fill="#c0c0c0"/>
<rect x="1057" y="560" width="1" height="5" fill="#c0c0c0"/>
<rect x="1065" y="560" width="1" height="8" fill="#c0c0c0"/>
<rect x="1073" y="560" width="1" height="11" fill="#c0c0c0"/>
<rect x="1081" y="560" width="1" height="14" fill="#c0c0c0"/>
<rect x="1089" y="560" width="1" height="16" fill="#c0c0c0"/>
<rect x="1097" y="560" width="1" height="16" fill="#c0c0c0"/>
<rect x="1105" y="560" width="1" height="14" fill="#c0c0c0"/>
<rect x="1113" y="560" width="1" height="13" fill="#c0c0c0"/>
<rect x="1121" y="560" width="1" height="14" fill="#c0c0c0"/>
<rect x="1129" y="560" width="1" height="14" fill="#c0c0c0"/>
<rect x="1137" y="560" width="1" height="13" fill="#c0c0c0"/>
<rect x="1145" y="560" width="1" height="12" fill="#c0c0c0"/>
<rect x="1153" y="560" width="1" height="12" fill="#c0c0c0"/>
<rect x="1161" y="560" width="1" height="12" fill="#c0c0c0"/>
<rect x="1169" y="560" width="1" height="10" fill="#c0c0c0"/>
<rect x="1177" y="560" width="1" height="6" fill="#c0c0c0"/>
<rect x="1185" y="560" width="1" height="3" fill="#c0c0c0"/>
<rect x="1201" y="559" width="1" height="1" fill="#c0c0c0"/>
<rect x="1209" y="556" width="1" height="4" fill="#c0c0c0"/>
<rect x="1217" y="554" width="1" height="6" fill="#c0c0c0"/>
<rect x="1225" y="553" width="1" height="7" fill="#c0c0c0"/>
<rect x="1233" y="553" width="1" height="7" fill="#c0c0c0"/>
<rect x="1241" y="552" width="1" height="8" fill="#c0c0c0"/>
<rect x="1249" y="551" width="1" height="9" fill="#c0c0c0"/>
<rect x="1257" y="549" width="1" height="11" fill="#c0c0c0"/>
<rect x="1265" y="548" width="1" height="12" fill="#c0c0c0"/>
<rect x="1273" y="547" width="1" height="13" fill="#c0c0c0"/>
<rect x="1281" y="546" width="1" height="14" fill="#c0c0c0"/>
<rect x="1289" y="546" width="1" height="14" fill="#c0c0c0"/>
<rect x="1297" y="548" width="1" height="12" fill="#c0c0c0"/>
<rect x="1305" y="549" width="1" height="11" fill="#c0c0c0"/>
<rect x="1313" y="553" width="1" height="7" fill="#c0c0c0"/>
<rect x="1321" y="556" width="1" height="4" fill="#c0c0c0"/>
<polyline points="9.5,564.5 130.5,565.5 154.5,561.5 170.5,559.5 186.5,556.5 202.5,552.5 218.5,549.5 234.5,547.5 250.5,545.5 258.5,545.5 274.5,547.5 290.5,553.5 306.5,560.5 322.5,567.5 338.5,573.5 346.5,575.5 360.5,576.5 370.5,577.5 440.5,577.5 460.5,578.5 472.5,581.5 488.5,583.5 500.5,587.5 520.5,588.5 530.5,589.5 540.5,588.5 560.5,585.5 574.5,581.5 590.5,575.5 606.5,570.5 620.5,565.5 640.5,559.5 660.5,555.5 680.5,550.5 690.5,548.5 700.5,545.5 720.5,543.5 730.5,542.5 740.5,542.5 750.5,544.5 764.5,547.5 776.5,551.5 790.5,554.5 810.5,556.5 824.5,558.5 860.5,558.5 872.5,557.5 890.5,556.5 900.5,554.5 920.5,552.5 940.5,551.5 952.5,549.5 990.5,549.5 1006.5,551.5 1023.5,553.5 1040.5,555.5 1056.5,557.5 1070.5,561.5 1084.5,565.5 1100.5,569.5 1116.5,571.5 1128.5,574.5 1160.5,574.5 1180.5,572.5 1196.5,569.5 1210.5,565.5 1230.5,560.5 1244.5,556.5 1260.5,553.5 1272.5,550.5 1282.5,548.5 1320.5,548.5" fill="none" stroke="#ff0000" stroke-width="1" stroke-dasharray="3 3"/>
<line x1="9" y1="635.5" x2="1672" y2="635.5" stroke="#c0c0c0" stroke-width="1" stroke-dasharray="3 3"/>
<line x1="9" y1="686.5" x2="1672" y2="686.5" stroke="#c0c0c0" stroke-width="1" stroke-dasharray="3 3"/>
<polyline points="9.5,657.5 17.5,665.5 25.5,670.5 33.5,667.5 41.5,665.5 49.5,664.5 57.5,660.5 65.5,664.5 73.5,666.5 81.5,665.5 89.5,668.5 97.5,666.5 105.5,666.5 113.5,662.5 121.5,658.5 129.5,647.5 137.5,645.5 145.5,645.5 153.5,644.5 161.5,643.5 169.5,646.5 177.5,631.5 185.5,630.5 193.5,628.5 201.5,632.5 209.5,630.5 217.5,630.5 225.5,644.5 233.5,654.5 241.5,650.5 249.5,651.5 257.5,652.5 265.5,670.5 273.5,692.5 281.5,693.5 289.5,683.5 297.5,684.5 305.5,677.5 313.5,675.5 321.5,676.5 329.5,677.5 337.5,675.5 345.5,679.5 353.5,679.5 361.5,678.5 369.5,672.5 377.5,678.5 385.5,685.5 393.5,666.5 401.5,668.5 409.5,668.5 417.5,675.5 425.5,681.5 433.5,684.5 441.5,680.5 449.5,679.5 457.5,683.5 465.5,697.5 473.5,678.5 481.5,678.5 489.5,675.5 497.5,675.5 505.5,678.5 513.5,671.5 521.5,670.5 529.5,670.5 537.5,673.5 545.5,670.5 553.5,665.5 561.5,652.5 569.5,652.5 577.5,654.5 585.5,654.5 593.5,653.5 601.5,653.5 609.5,657.5 617.5,650.5 625.5,649.5 633.5,648.5 641.5,649.5 649.5,651.5 657.5,656.5 665.5,631.5 673.5,634.5 681.5,637.5 689.5,643.5 697.5,645.5 705.5,655.5 713.5,667.5 721.5,659.5 729.5,660.5 737.5,661.5 745.5,658.5 753.5,664.5 761.5,665.5 769.5,664.5 777.5,662.5 785.5,659.5 793.5,658.5 801.5,663.5 809.5,660.5 817.5,661.5 825.5,662.5 833.5,656.5 841.5,655.5 849.5,652.5 857.5,658.5 865.5,652.5 873.5,645.5 881.5,648.5 889.5,646.5 897.5,645.5 905.5,651.5 913.5,653.5 921.5,651.5 929.5,648.5 937.5,645.5 945.5,646.5 953.5,640.5 961.5,653.5 969.5,659.5 977.5,657.5 985.5,662.5 993.5,658.5 1001.5,655.5 1009.5,671.5 1017.5,665.5 1025.5,663.5 1033.5,664.5 1041.5,665.5 1049.5,667.5 1057.5,684.5 1065.5,679.5 1073.5,679.5 1081.5,685.5 1089.5,678.5 1097.5,670.5 1105.5,663.5 1113.5,668.5 1121.5,672.5 1129.5,672.5 1137.5,669.5 1145.5,669.5 1153.5,665.5 1161.5,670.5 1169.5,656.5 1177.5,650.5 1185.5,651.5 1193.5,651.5 1201.5,649.5 1209.5,647.5 1217.5,647.5 1225.5,648.5 1233.5,653.5 1241.5,649.5 1249.5,644.5 1257.5,640.5 1265.5,641.5 1273.5,642.5 1281.5,641.5 1289.5,649.5 1297.5,655.5 1305.5,668.5 1313.5,669.5 1321.5,670.5" fill="none" stroke="#1e90ff" stroke-width="1" />
<rect x="8" y="38" width="1665" height="1" fill="#000"/>
<rect x="8" y="531" width="1665" height="1" fill="#000"/>
<rect x="8" y="533" width="1665" height="1" fill="#000"/>
<rect x="8" y="594" width="1665" height="1" fill="#000"/>
<rect x="8" y="596" width="1665" height="1" fill="#000"/>
<rect x="8" y="724" width="1665" height="1" fill="#000"/>
<rect x="8" y="38" width="1" height="687" fill="#000"/>
<rect x="1672" y="38" width="1" height="494" fill="#000"/>
<rect x="1672" y="533" width="1" height="62" fill="#000"/>
<rect x="1672" y="596" width="1" height="129" fill="#000"/>
<rect x="1673" y="71" width="2" height="1" fill="#000"/>
<text x="1678.5" y="76" font-size="12.5" fill="#000" >58.640</text>
<rect x="1673" y="120" width="2" height="1" fill="#000"/>
<text x="1678.5" y="125" font-size="12.5" fill="#000" >57.755</text>
<rect x="1673" y="169" width="2" height="1" fill="#000"/>
<text x="1678.5" y="174" font-size="12.5" fill="#000" >56.855</text>
<rect x="1673" y="218" width="2" height="1" fill="#000"/>
<text x="1678.5" y="223" font-size="12.5" fill="#000" >55.970</text>
<rect x="1673" y="267" width="2" height="1" fill="#000"/>
<text x="1678.5" y="272" font-size="12.5" fill="#000" >55.085</text>
<rect x="1673" y="316" width="2" height="1" fill="#000"/>
<text x="1678.5" y="321" font-size="12.5" fill="#000" >54.185</text>
<rect x="1673" y="365" width="2" height="1" fill="#000"/>
<text x="1678.5" y="370" font-size="12.5" fill="#000" >53.300</text>
<rect x="1673" y="414" width="2" height="1" fill="#000"/>
<text x="1678.5" y="419" font-size="12.5" fill="#000" >52.415</text>
<rect x="1673" y="512" width="2" height="1" fill="#000"/>
<text x="1678.5" y="517" font-size="12.5" fill="#000" >50.630</text>
<rect x="1674" y="45" width="49" height="14" fill="#ff0000"/>
<text x="1678.5" y="57" font-size="12.5" fill="#fff" >59.000</text>
<rect x="1674" y="154" width="49" height="14" fill="#ff0000"/>
<text x="1678.5" y="166" font-size="12.5" fill="#fff" >57.020</text>
<rect x="1674" y="265" width="49" height="14" fill="#00ff80"/>
<rect x="1674" y="279" width="49" height="1" fill="#000"/>
<text x="1678.5" y="277" font-size="12.5" fill="#fff" >55.000</text>
<rect x="1674" y="458" width="49" height="14" fill="#0000ff"/>
<text x="1678.5" y="470" font-size="12.5" fill="#fff" >51.500</text>
<rect x="1673" y="535" width="2" height="1" fill="#000"/>
<text x="1676" y="547" font-size="12.5" fill="#000" >0.8005</text>
<rect x="1673" y="560" width="2" height="1" fill="#000"/>
<text x="1676" y="565" font-size="12.5" fill="#000" >0.00</text>
<rect x="1673" y="593" width="2" height="1" fill="#000"/>
<text x="1675.5" y="591" font-size="12.5" fill="#000" >-1.0742</text>
<rect x="1673" y="598" width="2" height="1" fill="#000"/>
<text x="1676" y="611" font-size="12.5" fill="#000" >100</text>
<rect x="1673" y="635" width="2" height="1" fill="#000"/>
<text x="1676" y="640" font-size="12.5" fill="#000" >70</text>
<rect x="1673" y="686" width="2" height="1" fill="#000"/>
<text x="1676" y="691" font-size="12.5" fill="#000" >30</text>
<rect x="1673" y="723" width="2" height="1" fill="#000"/>
<text x="1676" y="721" font-size="12.5" fill="#000" >0</text>
<rect x="9" y="725" width="1" height="3" fill="#000"/>
<text x="8" y="740" font-size="12.5" fill="#000" >25 Jul 2019</text>
<rect x="105" y="725" width="1" height="3" fill="#000"/>
<text x="104" y="740" font-size="12.5" fill="#000" >29 Jul 04:00</text>
<rect x="201" y="725" width="1" height="3" fill="#000"/>
<text x="200" y="740" font-size="12.5" fill="#000" >31 Jul 04:00</text>
<rect x="297" y="725" width="1" height="3" fill="#000"/>
<text x="296" y="740" font-size="12.5" fill="#000" >2 Aug 04:00</text>
<rect x="393" y="725" width="1" height="3" fill="#000"/>
<text x="392" y="740" font-size="12.5" fill="#000" >6 Aug 00:00</text>
<rect x="489" y="725" width="1" height="3" fill="#000"/>
<text x="488" y="740" font-size="12.5" fill="#000" >8 Aug 00:00</text>
<rect x="585" y="725" width="1" height="3" fill="#000"/>
<text x="584" y="740" font-size="12.5" fill="#000" >11 Aug 23:00</text>
<rect x="681" y="725" width="1" height="3" fill="#000"/>
<text x="680" y="740" font-size="12.5" fill="#000" >13 Aug 20:00</text>
<rect x="777" y="725" width="1" height="3" fill="#000"/>
<text x="776" y="740" font-size="12.5" fill="#000" >15 Aug 20:00</text>
<rect x="873" y="725" width="1" height="3" fill="#000"/>
<text x="872" y="740" font-size="12.5" fill="#000" >19 Aug 16:00</text>
<rect x="969" y="725" width="1" height="3" fill="#000"/>
<text x="968" y="740" font-size="12.5" fill="#000" >21 Aug 16:00</text>
<rect x="1065" y="725" width="1" height="3" fill="#000"/>
<text x="1064" y="740" font-size="12.5" fill="#000" >23 Aug 16:00</text>
<rect x="1161" y="725" width="1" height="3" fill="#000"/>
<text x="1160" y="740" font-size="12.5" fill="#000" >27 Aug 12:00</text>
<rect x="1257" y="725" width="1" height="3" fill="#000"/>
<text x="1256" y="740" font-size="12.5" fill="#000" >29 Aug 12:00</text>
<text x="13" y="549" font-size="12.5" fill="#000" >MACD(12,26,9) 0.1506 0.3635</text>
<text x="13" y="612" font-size="12.5" fill="#000" >RSI(14) 42.8456</text>
<polygon points="12,51 21.5,51 16.5,46" fill="#000"/>
<text x="27" y="53" font-size="12.5" fill="#000" textLength="50" lengthAdjust="spacingAndGlyphs">USOil-,H4</text>
<text x="86.5" y="53" font-size="12.5" fill="#000" >55.030</text>
<text x="129.5" y="53" font-size="12.5" fill="#000" >55.080</text>
<text x="172.3" y="53" font-size="12.5" fill="#000" >54.980</text>
<text x="215.3" y="53" font-size="12.5" fill="#000" >54.980</text>
</svg>
<svg width="1728" height="753" viewBox="0 0 1728 753">
<g stroke="#585858" fill="none" stroke-linecap="round"><path stroke-width="1.2" d="M6.6 20.3 L17.5 10.4 M8 25.4 L13 21.8 M13.5 27 L25.5 16.3"/><path stroke-width="1.5" stroke-linejoin="round" d="M10.4 26.7 L10.6 17.5 L14 22.7 L14.3 16 L18.3 21.5 L18 13.5 L22.7 17.1 L21.5 8.2 M21.5 11 L24 11.5"/></g>
<text x="21" y="29.7" font-size="9.2" font-weight="bold" fill="#585858" textLength="5.2" lengthAdjust="spacingAndGlyphs">E</text>
<line x1="42.3" y1="10" x2="59.5" y2="10" stroke="#707070" stroke-width="1.6" stroke-dasharray="1.3 1.3"/>
<line x1="42.3" y1="14" x2="59.5" y2="14" stroke="#707070" stroke-width="1.6" stroke-dasharray="1.3 1.3"/>
<line x1="42.3" y1="19" x2="59.5" y2="19" stroke="#707070" stroke-width="1.6" stroke-dasharray="1.3 1.3"/>
<line x1="42.3" y1="24" x2="54" y2="24" stroke="#707070" stroke-width="1.6" stroke-dasharray="1.3 1.3"/>
<text x="55" y="29.7" font-size="9.2" font-weight="bold" fill="#585858" textLength="5.2" lengthAdjust="spacingAndGlyphs">F</text>
<text x="79.8" y="24.6" font-size="15.8" font-weight="bold" fill="#585858">A</text>
<rect x="111.5" y="11" width="15" height="15.5" fill="none" stroke="#606060" stroke-width="1.3" stroke-dasharray="1.3 1.3"/>
<rect x="110.3" y="9" width="2.6" height="2.6" fill="#585858"/>
<path d="M114.7 13.8 H124.5 V15.8 H120.8 V24.3 H118.2 V15.8 H114.7 Z" fill="#707070"/>
<polygon points="144.5,15.5 153.5,15.5 149,10.5" fill="#585858"/><rect x="146.6" y="15" width="4.8" height="1.8" fill="#585858"/>
<polygon points="153.4,22 162.4,22 158,27" fill="#585858"/><rect x="155.5" y="20.6" width="4.8" height="1.8" fill="#585858"/>
<path d="M147.3 19.5 L150.3 22.3 L155.8 15.8" fill="none" stroke="#585858" stroke-width="1.5"/>
<polygon points="167.8,17 175.4,17 171.6,21.2" fill="#000"/>
<rect x="183" y="2" width="1" height="32" fill="#a0a0a0"/><rect x="184" y="2" width="1" height="32" fill="#fff"/>
<rect x="187" y="5" width="3" height="1" fill="#b4b4b4"/>
<rect x="187" y="7" width="3" height="1" fill="#b4b4b4"/>
<rect x="187" y="9" width="3" height="1" fill="#b4b4b4"/>
<rect x="187" y="11" width="3" height="1" fill="#b4b4b4"/>
<rect x="187" y="13" width="3" height="1" fill="#b4b4b4"/>
<rect x="187" y="15" width="3" height="1" fill="#b4b4b4"/>
<rect x="187" y="17" width="3" height="1" fill="#b4b4b4"/>
<rect x="187" y="19" width="3" height="1" fill="#b4b4b4"/>
<rect x="187" y="21" width="3" height="1" fill="#b4b4b4"/>
<rect x="187" y="23" width="3" height="1" fill="#b4b4b4"/>
<rect x="187" y="25" width="3" height="1" fill="#b4b4b4"/>
<rect x="187" y="27" width="3" height="1" fill="#b4b4b4"/>
<rect x="187" y="29" width="3" height="1" fill="#b4b4b4"/>
<rect x="187" y="31" width="3" height="1" fill="#b4b4b4"/>
<rect x="498" y="2" width="1" height="32" fill="#a0a0a0"/>
<rect x="363" y="3" width="31" height="29" fill="#f8f8f8"/><rect x="363" y="3" width="31" height="1" fill="#a0a0a0"/><rect x="363" y="3" width="1" height="29" fill="#a0a0a0"/><rect x="363" y="31" width="32" height="1" fill="#fff"/><rect x="394" y="3" width="1" height="29" fill="#fff"/>
<text x="208" y="23.2" font-size="12.3" fill="#505050" text-anchor="middle">M1</text>
<text x="242.1" y="23.2" font-size="12.3" fill="#505050" text-anchor="middle">M5</text>
<text x="276.7" y="23.2" font-size="12.3" fill="#505050" text-anchor="middle">M15</text>
<text x="310.9" y="23.2" font-size="12.3" fill="#505050" text-anchor="middle">M30</text>
<text x="344.7" y="23.2" font-size="12.3" fill="#505050" text-anchor="middle">H1</text>
<text x="378" y="23.2" font-size="12.3" fill="#505050" text-anchor="middle">H4</text>
<text x="412.8" y="23.2" font-size="12.3" fill="#505050" text-anchor="middle">D1</text>
<text x="447.6" y="23.2" font-size="12.3" fill="#505050" text-anchor="middle">W1</text>
<text x="480.1" y="23.2" font-size="12.3" fill="#505050" text-anchor="middle">MN</text>
<g transform="translate(1216,401.5) scale(1.06,1)"><text x="0" y="0" font-size="50" letter-spacing="-2.9" font-family="'Noto Sans CJK SC','Liberation Sans',sans-serif" font-weight="500" fill="#ff2010" id="cn">多空转折点</text></g>
<g transform="translate(1469.5,402) scale(0.9,1)"><text x="0" y="0" font-size="56" font-family="'Noto Sans CJK SC','Liberation Sans',sans-serif" font-weight="500" fill="#ff2010" id="cn2">55</text></g>
</svg>
<!-- one click trading panel -->
<div class="a" style="left:12px;top:61px;width:283px;height:76px;background:linear-gradient(#fa5252,#b00000);"></div>
<div class="a" style="left:80px;top:61px;width:147px;height:27px;background:#fff"></div>
<div class="a" style="left:153px;top:88px;width:2px;height:49px;background:#fff"></div>
<div class="a" style="left:12px;top:61px;width:68px;height:1px;background:#d03030"></div>
<div class="a" style="left:227px;top:61px;width:68px;height:1px;background:#d03030"></div>
<div class="a" style="left:12px;top:61px;width:1px;height:76px;background:rgba(150,0,0,.35)"></div>
<div class="a" style="left:294px;top:61px;width:1px;height:76px;background:rgba(150,0,0,.35)"></div>
<div class="a" style="left:79px;top:61px;width:1px;height:27px;background:rgba(150,0,0,.4)"></div>
<div class="a" style="left:227px;top:61px;width:1px;height:27px;background:rgba(150,0,0,.4)"></div>
<div class="a" style="left:16px;top:87px;width:60px;height:1px;background:#a01010"></div>
<div class="a" style="left:16px;top:88px;width:60px;height:1px;background:#ee6060"></div>
<div class="a" style="left:231px;top:87px;width:60px;height:1px;background:#a01010"></div>
<div class="a" style="left:231px;top:88px;width:60px;height:1px;background:#ee6060"></div>
<div class="a" style="left:82px;top:61px;width:141px;height:23px;border:1px solid #a6a6b2;background:#fff"></div>
<div class="a" style="left:83px;top:62px;width:23px;height:23px;background:linear-gradient(#ececec 0,#e2e2e2 48%,#d2d2d2 52%,#cecece 100%);box-shadow:inset 0 0 0 1px #f4f4f4;border-right:1px solid #b0b0b8"></div>
<div class="a" style="left:200px;top:62px;width:23px;height:23px;background:linear-gradient(#ececec 0,#e2e2e2 48%,#d2d2d2 52%,#cecece 100%);box-shadow:inset 0 0 0 1px #f4f4f4;border-left:1px solid #b0b0b8"></div>
<svg width="1728" height="753" viewBox="0 0 1728 753"><polygon points="90.8,72 98.2,72 94.5,76.2" fill="#5a6ec4"/><polygon points="208.8,75.4 216.2,75.4 212.5,71.2" fill="#5a6ec4"/></svg>
<div class="tp" id="sell" style="left:28.5px;top:66px;font-size:15px;transform:scaleX(.92);transform-origin:0 0">SELL</div>
<div class="tp" id="buy" style="left:245.5px;top:66px;font-size:15px;transform:scaleX(.955);transform-origin:0 0">BUY</div>
<div class="tp" id="vol" style="left:165.5px;top:65px;font-size:15.5px;letter-spacing:.4px;color:#000">1.00</div>
<div class="tp" id="s54" style="left:50.5px;top:112.5px;font-size:15.5px;letter-spacing:.3px;font-weight:bold">54</div>
<div class="tp" id="s98" style="left:72.3px;top:90px;font-size:43px;transform:scaleX(.93);transform-origin:0 0">98</div>
<div class="tp" id="s0" style="left:121px;top:96px;font-size:13.5px;font-weight:bold;transform:scaleX(1.2);transform-origin:0 0">0</div>
<div class="tp" id="b55" style="left:193px;top:112.5px;font-size:15.5px;letter-spacing:.3px;font-weight:bold">55</div>
<div class="tp" id="b03" style="left:215.3px;top:90px;font-size:43px;transform:scaleX(.93);transform-origin:0 0">03</div>
<div class="tp" id="b0" style="left:264px;top:96px;font-size:13.5px;font-weight:bold;transform:scaleX(1.2);transform-origin:0 0">0</div>
</body></html>
